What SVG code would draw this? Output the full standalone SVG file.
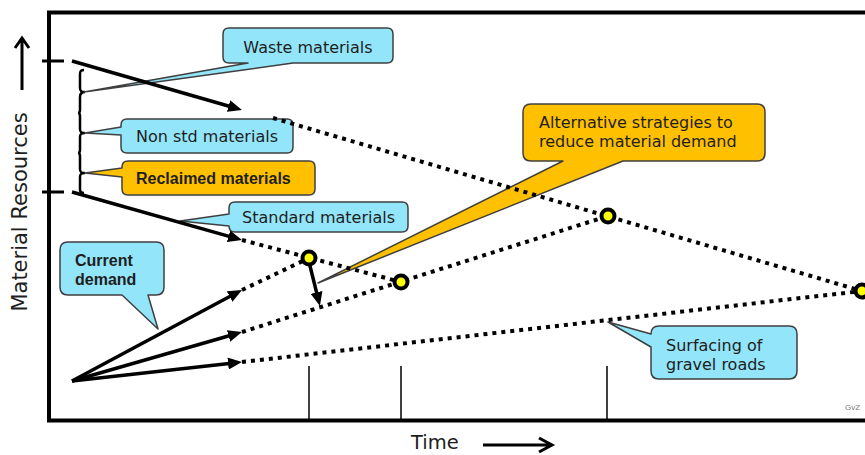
<svg xmlns="http://www.w3.org/2000/svg" width="865" height="455" viewBox="0 0 865 455">
  <style>
    .frame { fill: none; stroke: #000; stroke-width: 4; }
    .tick { stroke: #000; stroke-width: 3; }
    .guide { stroke: #000; stroke-width: 1.5; }
    .cyan { fill: #93E5F9; stroke: #3F3F3F; stroke-width: 1.5; stroke-linejoin: round; }
    .amber { fill: #FFC000; stroke: #3F3F3F; stroke-width: 1.5; stroke-linejoin: round; }
    .lbl { font-family: "DejaVu Sans", "Liberation Sans", sans-serif; font-size: 16px; fill: #1e1e1e; }
    .bold { font-family: "Liberation Sans", Arial, sans-serif; font-size: 16px; font-weight: bold; fill: #1e1e1e; }
    .axis { font-family: "DejaVu Sans", "Liberation Sans", sans-serif; fill: #1e1e1e; }
    .arrow { fill: none; stroke: #000; stroke-width: 3.5; marker-end: url(#head); }
    .dots { fill: none; stroke: #000; stroke-width: 4; stroke-dasharray: 4 5; }
    .pt { fill: #FFFF00; stroke: #000; stroke-width: 4; }
    .chev { fill: none; stroke: #000; stroke-width: 3; stroke-linejoin: miter; }
  </style>
  <defs>
    <marker id="head" viewBox="0 0 14 12" refX="8" refY="6" markerWidth="14" markerHeight="12" markerUnits="userSpaceOnUse" orient="auto">
      <path d="M0,0 L14,6 L0,12 z" fill="#000"/>
    </marker>
  </defs>

  <rect width="865" height="455" fill="#fff"/>

  <!-- chart frame and axis ticks -->
  <path class="frame" d="M865,12.5 H49 V420.5 H865"/>
  <line class="tick" x1="42" y1="61" x2="64" y2="61"/>
  <line class="tick" x1="42" y1="192" x2="64" y2="192"/>

  <!-- axis titles -->
  <text class="axis" font-size="21" text-anchor="middle" transform="translate(27,212) rotate(-90)">Material Resources</text>
  <path class="chev" d="M22,90 V39 M15,48 L22,38 L29,48"/>
  <text class="axis" font-size="19.5" x="411" y="449">Time</text>
  <path class="chev" d="M483,445 H551 M539,438 L552,445 L539,452"/>

  <!-- brace grouping the material bands -->
  <path fill="none" stroke="#000" stroke-width="2.5" d="M84,70 C81,70 80,71 80,74 V88 C80,91 81,92 85,92 C81,92 80,94 80,97 V110 C80,112 79,113 78,113 C79,113 80,114 80,116 V129 C80,132 81,133 85,133 C81,133 80,134 80,137 V150 C80,152 79,153 78,153 C79,153 80,154 80,156 V169 C80,172 81,173 85,173 C81,173 80,174 80,177 V190 C80,192 82,193 84,193"/>

  <!-- callouts -->
  <g id="waste">
    <path class="cyan" d="M229,28 H387 Q393,28 393,34 V57 Q393,63 387,63 H293 L84,92 L248,63 H229 Q223,63 223,57 V34 Q223,28 229,28 Z"/>
    <text class="lbl" x="308" y="53" text-anchor="middle">Waste materials</text>
  </g>
  <g id="nonstd">
    <path class="cyan" d="M127,119 H287 Q293,119 293,125 V147 Q293,153 287,153 H127 Q121,153 121,147 V135 L85,133 L121,127 V125 Q121,119 127,119 Z"/>
    <text class="lbl" x="207" y="142" text-anchor="middle">Non std materials</text>
  </g>
  <g id="reclaimed">
    <path class="amber" d="M128,161 H309 Q315,161 315,167 V189 Q315,195 309,195 H128 Q122,195 122,189 V177 L85,173 L122,168 V167 Q122,161 128,161 Z"/>
    <text class="bold" x="136" y="184">Reclaimed materials</text>
  </g>
  <g id="standard">
    <path class="cyan" d="M235,202 H402 Q408,202 408,208 V226 Q408,232 402,232 H235 Q229,232 229,226 L180,221 L229,214 V208 Q229,202 235,202 Z"/>
    <text class="lbl" x="318.5" y="223" text-anchor="middle">Standard materials</text>
  </g>
  <g id="current">
    <path class="cyan" d="M68,242 H156 Q164,242 164,250 V287 Q164,295 156,295 H148 L158,329 L122,295 H68 Q60,295 60,287 V250 Q60,242 68,242 Z"/>
    <text class="bold" x="75" y="266">Current</text>
    <text class="bold" x="75" y="285">demand</text>
  </g>
  <g id="alternative">
    <path class="amber" d="M531,104 H757 Q765,104 765,112 V153 Q765,161 757,161 H623 L318,283 L563,161 H531 Q523,161 523,153 V112 Q523,104 531,104 Z"/>
    <text class="lbl" x="539" y="128">Alternative strategies to</text>
    <text class="lbl" x="539" y="147">reduce material demand</text>
  </g>
  <g id="gravel">
    <path class="cyan" d="M659,326 H789 Q797,326 797,334 V371 Q797,379 789,379 H659 Q651,379 651,371 V347 L608,322 L651,334 Q651,326 659,326 Z"/>
    <text class="lbl" x="666" y="351">Surfacing of</text>
    <text class="lbl" x="666" y="370">gravel roads</text>
  </g>

  <!-- trend lines -->
  <g id="connectors">
    <path class="arrow" d="M72,61 L236.2,108.3"/>
    <path class="arrow" d="M72,192 L236.2,238.4"/>
    <path class="arrow" d="M72,381 L236.7,292.8"/>
    <path class="arrow" d="M72,381 L236.2,333.7"/>
    <path class="arrow" d="M72,381 L236,362.7"/>
    <path class="arrow" stroke-width="3" d="M309,262 L318.5,300.2"/>
    <path class="dots" d="M273,118 L862,291"/>
    <path class="dots" d="M242,240 L401,282"/>
    <path class="dots" d="M242,290 L309,258"/>
    <path class="dots" d="M242,332 L608,216"/>
    <path class="dots" d="M242,362 L862,291"/>
  </g>

  <!-- crossover points -->
  <g id="p1"><circle class="pt" cx="309" cy="258" r="6.5"/></g>
  <g id="p2"><circle class="pt" cx="401" cy="282" r="6.5"/></g>
  <g id="p3"><circle class="pt" cx="608" cy="216" r="6.5"/></g>
  <g id="p4"><circle class="pt" cx="862" cy="291" r="6.5"/></g>

  <!-- time markers -->
  <line class="guide" x1="309" y1="366" x2="309" y2="419"/>
  <line class="guide" x1="401" y1="366" x2="401" y2="419"/>
  <line class="guide" x1="607" y1="366" x2="607" y2="419"/>

  <text x="845" y="410" font-family="'Liberation Sans', Arial, sans-serif" font-size="8" fill="#777">GvZ</text>
</svg>
